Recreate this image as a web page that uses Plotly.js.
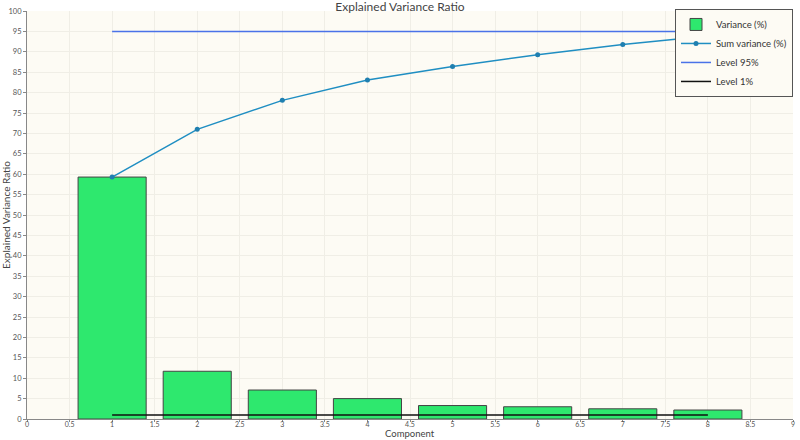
<!DOCTYPE html>
<html><head><meta charset="utf-8">
<script src="https://cdn.plot.ly/plotly-3.0.1.min.js"></script>
<style>body{margin:0;padding:0;}#chart{width:800px;height:440px;}</style>
</head><body><div id="chart"></div>
<script>
const components = [1, 2, 3, 4, 5, 6, 7, 8];
const variance = [59.3, 11.7, 7.1, 5.0, 3.3, 3.0, 2.5, 2.2];
const sumVariance = [59.3, 71.0, 78.1, 83.1, 86.4, 89.3, 91.8, 93.9];
const levelX = [1, 8];
const level95 = [95, 95];
const level1 = [1, 1];

const font = 'Lato, "DejaVu Sans", sans-serif';
const traces = [
  {type:'bar', x:components, y:variance, name:'Variance (%)', width:0.8,
   marker:{color:'#2ee86e', line:{color:'#444', width:1}}},
  {type:'scatter', mode:'lines+markers', x:components, y:sumVariance, name:'Sum variance (%)',
   line:{color:'#1f8ec2', width:1.5}, marker:{color:'#1f7fb0', size:5}},
  {type:'scatter', mode:'lines', x:levelX, y:level95, name:'Level 95%',
   line:{color:'#4a72e8', width:1.5}},
  {type:'scatter', mode:'lines', x:levelX, y:level1, name:'Level 1%',
   line:{color:'#111', width:1.5}}
];
const layout = {
  width:800, height:440,
  margin:{l:27, r:7, t:11, b:21},
  paper_bgcolor:'#ffffff', plot_bgcolor:'#fdfbf4',
  font:{family:font, size:8, color:'#555'},
  title:{text:'Explained Variance Ratio', font:{family:font, size:12, color:'#444'}, x:0.5, xanchor:'center', y:0.995, yanchor:'top'},
  xaxis:{range:[0,9], dtick:0.5, tick0:0, showline:true, linecolor:'#888', linewidth:1, ticks:'outside', ticklen:2, tickcolor:'#888',
    ticklabelstandoff:-3, tickfont:{size:7},
    gridcolor:'#f0eee6', zeroline:false, automargin:false},
  yaxis:{range:[0,100], dtick:5, showline:true, linecolor:'#888', linewidth:1, ticks:'outside', ticklen:3, tickcolor:'#888',
    tickfont:{size:7.5}, automargin:false,
    gridcolor:'#f0eee6', zeroline:false, title:{text:'Explained Variance Ratio', font:{family:font, size:10, color:'#444'}, standoff:4}},
  annotations:[{text:'Component', xref:'paper', yref:'paper', x:0.5, y:0, xanchor:'center', yanchor:'bottom', yshift:-21,
    borderpad:0, showarrow:false, font:{family:font, size:9.5, color:'#444'}}],
  legend:{x:1, xanchor:'right', y:1.005, yanchor:'top', bgcolor:'#fdfbf4', bordercolor:'#555', borderwidth:1,
    font:{family:font, size:9.5, color:'#333'}, tracegroupgap:0, itemwidth:30},
  bargap:0.2, showlegend:true
};
Plotly.newPlot('chart', traces, layout, {displayModeBar:false});
</script></body></html>
